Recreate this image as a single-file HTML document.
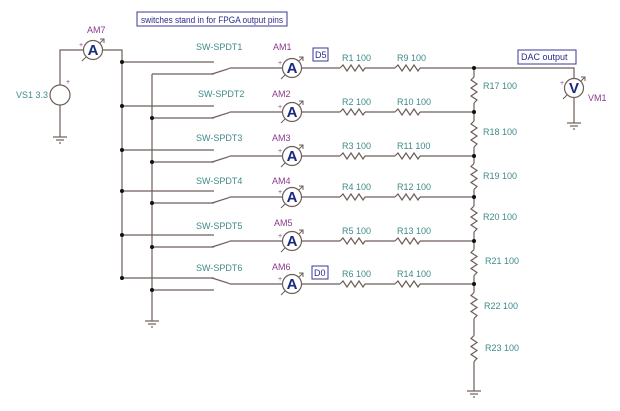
<!DOCTYPE html>
<html><head><meta charset="utf-8"><style>
html,body{margin:0;padding:0;background:#fff;}
svg{display:block;}
text{font-family:"Liberation Sans",sans-serif;font-size:9px;}
.t{fill:#3f8a8a;}
.p{fill:#8b3a8b;}
</style></head><body>
<svg id="s" width="620" height="411" viewBox="0 0 620 411" xmlns="http://www.w3.org/2000/svg">
<g id="g" stroke="#6e5e5a" stroke-width="1.2" fill="none"></g>
<g id="d" fill="#111"></g>
<rect x="137" y="12" width="150" height="14" fill="none" stroke="#3a3a9a"/>
<text x="141" y="23" fill="#2a2a8a" textLength="142" lengthAdjust="spacingAndGlyphs">switches stand in for FPGA output pins</text>
<text x="87" y="33" class="p">AM7</text>
<text x="16" y="98" class="t">VS1 3.3</text>
<text x="66" y="84" fill="#8b3a8b" style="font-size:7px">+</text>
<text x="196" y="50" class="t">SW-SPDT1</text>
<text x="198" y="97" class="t">SW-SPDT2</text>
<text x="196" y="141" class="t">SW-SPDT3</text>
<text x="196" y="184" class="t">SW-SPDT4</text>
<text x="196" y="229" class="t">SW-SPDT5</text>
<text x="196" y="271" class="t">SW-SPDT6</text>
<text x="273" y="50" class="p">AM1</text>
<text x="272" y="97" class="p">AM2</text>
<text x="272" y="141" class="p">AM3</text>
<text x="272" y="184" class="p">AM4</text>
<text x="274" y="226" class="p">AM5</text>
<text x="272" y="270" class="p">AM6</text>
<rect x="313" y="48" width="15" height="13" fill="none" stroke="#3a3a9a"/>
<text x="315" y="58" fill="#2a2a8a">D5</text>
<rect x="312" y="266" width="16" height="13" fill="none" stroke="#3a3a9a"/>
<text x="314" y="276" fill="#2a2a8a">D0</text>
<rect x="518" y="50" width="58" height="14" fill="none" stroke="#3a3a9a"/>
<text x="521" y="60" fill="#2a2a8a">DAC output</text>
<text x="342" y="61" class="t">R1 100</text><text x="397" y="61" class="t">R9 100</text>
<text x="342" y="105" class="t">R2 100</text><text x="397" y="105" class="t">R10 100</text>
<text x="342" y="149" class="t">R3 100</text><text x="397" y="149" class="t">R11 100</text>
<text x="342" y="190" class="t">R4 100</text><text x="397" y="190" class="t">R12 100</text>
<text x="342" y="234" class="t">R5 100</text><text x="397" y="234" class="t">R13 100</text>
<text x="342" y="277" class="t">R6 100</text><text x="397" y="277" class="t">R14 100</text>
<text x="483" y="89" class="t">R17 100</text>
<text x="483" y="135" class="t">R18 100</text>
<text x="483" y="179" class="t">R19 100</text>
<text x="483" y="220" class="t">R20 100</text>
<text x="485" y="264" class="t">R21 100</text>
<text x="484" y="309" class="t">R22 100</text>
<text x="485" y="351" class="t">R23 100</text>
<text x="588" y="101" class="p">VM1</text>
</svg>
<script>
var g=document.getElementById('g'),d=document.getElementById('d'),S=document.getElementById('s');
var NS='http://www.w3.org/2000/svg';
function el(p,t,a){var e=document.createElementNS(NS,t);for(var k in a)e.setAttribute(k,a[k]);p.appendChild(e);return e;}
function L(pts){el(g,'polyline',{points:pts});}
function dot(x,y){el(d,'circle',{cx:x,cy:y,r:2});}
function rh(x,y){var p=[[0,0],[3,-3],[7,3],[11,-3],[15,3],[19,-3],[23,3],[25,0]];L(p.map(function(q){return (x+q[0])+','+(y+q[1])}).join(' '));}
function rv(x,y){var p=[[0,0],[-3,3],[3,7],[-3,11],[3,15],[-3,19],[3,23],[0,26]];L(p.map(function(q){return (x+q[0])+','+(y+q[1])}).join(' '));}
function meter(x,y,ch){el(g,'circle',{cx:x,cy:y,r:9.5});
 el(g,'line',{x1:x-11,y1:y+11,x2:x-7,y2:y+7,'stroke-width':1});
 el(g,'line',{x1:x+7,y1:y-7,x2:x+11,y2:y-11,'stroke-width':1});
 el(g,'polyline',{points:(x+7)+','+(y-11)+' '+(x+11)+','+(y-11)+' '+(x+11)+','+(y-7),'stroke-width':1});
 var t=el(S,'text',{x:x,y:y+5,'text-anchor':'middle',style:'font-size:15px;font-weight:bold',fill:'#1a2a7a'});t.textContent=ch;
 var p=el(S,'text',{x:x-14,y:y-3,style:'font-size:7px',fill:'#8b3a8b'});p.textContent='+';}
function gnd(x,y){L(x+','+y+' '+x+','+(y+3));el(g,'line',{x1:x-7,y1:y+3,x2:x+7,y2:y+3});el(g,'line',{x1:x-4,y1:y+6,x2:x+4,y2:y+6});el(g,'line',{x1:x-1,y1:y+9,x2:x+1,y2:y+9});}
L('60,85 60,50 83,50');L('103,50 122,50 122,280');
el(g,'circle',{cx:60,cy:95,r:10});L('60,105 60,134');gnd(60,134);
L('152,74 152,318');gnd(152,318);
var rows=[68,112,156,197,241,284];
rows.forEach(function(c,i){
 var up=c-6,lo=c+6;
 L('122,'+up+' 214,'+up);L('152,'+lo+' 214,'+lo);
 dot(122,up);if(i>0)dot(152,lo);
 if(i<5)L('212,'+lo+' 228,'+(c+1)+' 230,'+c);else L('212,'+up+' 228,'+(c-1)+' 230,'+c);
 L('230,'+c+' 282,'+c);meter(292,c,'A');
 L('302,'+c+' 340,'+c);rh(340,c);L('365,'+c+' 395,'+c);rh(395,c);L('420,'+c+' 474,'+c);
 dot(474,c);
});
meter(93,50,'A');
var seg=[[68,112],[112,156],[156,197],[197,241],[241,284],[284,327],[327,370]];
seg.forEach(function(s){var m=(s[0]+s[1])/2-13;L('474,'+s[0]+' 474,'+m);rv(474,m);L('474,'+(m+26)+' 474,'+s[1]);});
L('474,370 474,388');gnd(474,388);
L('474,68 574,68 574,78');meter(574,88,'V');L('574,98 574,120');gnd(574,120);
</script>
</body></html>
